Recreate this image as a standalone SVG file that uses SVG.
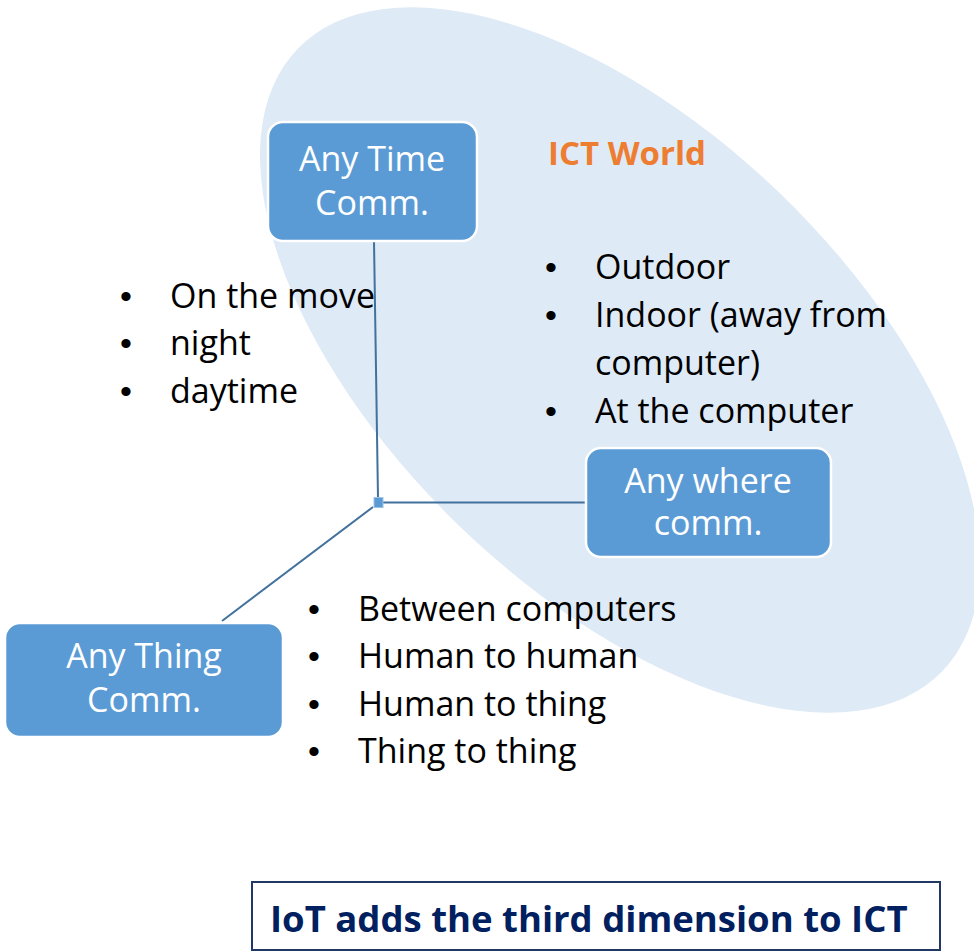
<svg xmlns="http://www.w3.org/2000/svg" width="974" height="951" viewBox="0 0 974 951">
<style>
.box{fill:#5B9BD5;stroke:#FFFFFF;stroke-width:2.5}
.bt{font-family:"Open Sans","Noto Sans",sans-serif;font-size:34px;fill:#FFFFFF;text-anchor:middle}
.t{font-family:"Open Sans","Noto Sans",sans-serif;font-size:34px;fill:#000000}
.b{font-family:"Liberation Sans",Arial,sans-serif;font-size:34px;fill:#000000}
.conn{stroke:#41719C;stroke-width:2;fill:none}
</style>
<rect width="974" height="951" fill="#FFFFFF"/>
<ellipse id="ict-world-area" cx="620" cy="360" rx="448" ry="231" transform="rotate(44 620 360)" fill="#DEEAF6"/>
<text id="ict-world-title" x="548" y="165" font-family="'Open Sans','Noto Sans',sans-serif" font-size="33" font-weight="bold" fill="#ED7D31">ICT World</text>
<g id="connectors">
<line class="conn" x1="374" y1="241" x2="378" y2="498"/>
<line class="conn" x1="383" y1="502.5" x2="587" y2="502.5"/>
<line class="conn" x1="373" y1="507" x2="222" y2="621"/>
<rect x="374" y="497.5" width="9" height="10" fill="#5B9BD5" stroke="#9DC3E6" stroke-width="1"/>
</g>
<g id="any-time">
<rect class="box" x="268" y="122" width="209" height="119" rx="15"/>
<text class="bt" x="372" y="171">Any Time</text>
<text class="bt" x="372" y="215">Comm.</text>
</g>
<g id="any-where">
<rect class="box" x="586" y="448" width="245" height="109" rx="15"/>
<text class="bt" x="708" y="493">Any where</text>
<text class="bt" x="708" y="535">comm.</text>
</g>
<g id="any-thing">
<rect class="box" x="5" y="623" width="278" height="114" rx="15"/>
<text class="bt" x="144" y="668">Any Thing</text>
<text class="bt" x="144" y="712">Comm.</text>
</g>
<g id="time-list">
<text class="b" x="120" y="308">•</text><text class="t" x="170" y="308">On the move</text>
<text class="b" x="120" y="355">•</text><text class="t" x="170" y="355">night</text>
<text class="b" x="120" y="403">•</text><text class="t" x="170" y="403">daytime</text>
</g>
<g id="where-list">
<text class="b" x="545" y="279">•</text><text class="t" x="595" y="279">Outdoor</text>
<text class="b" x="545" y="327">•</text><text class="t" x="595" y="327">Indoor (away from</text>
<text class="t" x="595" y="375">computer)</text>
<text class="b" x="545" y="423">•</text><text class="t" x="595" y="423">At the computer</text>
</g>
<g id="thing-list">
<text class="b" x="308" y="621">•</text><text class="t" x="358" y="621">Between computers</text>
<text class="b" x="308" y="668">•</text><text class="t" x="358" y="668">Human to human</text>
<text class="b" x="308" y="716">•</text><text class="t" x="358" y="716">Human to thing</text>
<text class="b" x="308" y="763">•</text><text class="t" x="358" y="763">Thing to thing</text>
</g>
<g id="iot-note">
<rect x="252" y="882" width="688" height="68" fill="#FFFFFF" stroke="#1F3864" stroke-width="2"/>
<text x="270" y="932" font-family="'Open Sans','Noto Sans',sans-serif" font-size="36.5" font-weight="bold" fill="#002060">IoT adds the third dimension to ICT</text>
</g>
</svg>
